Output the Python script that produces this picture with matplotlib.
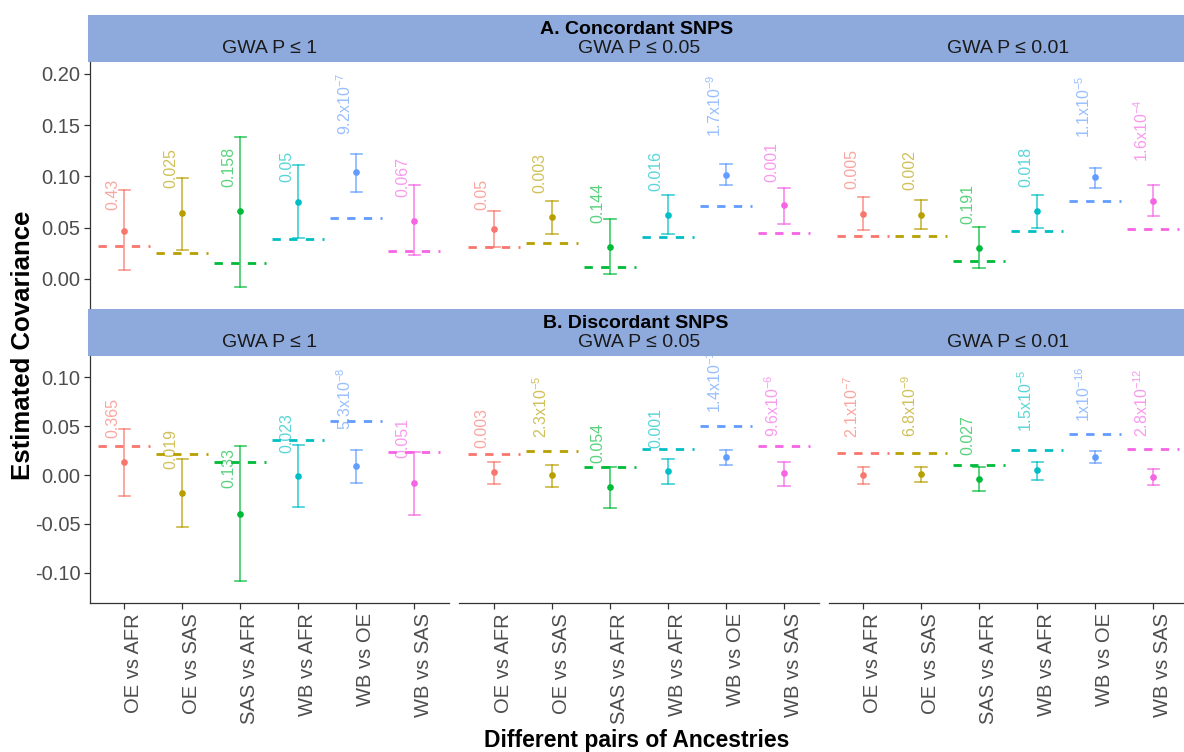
import matplotlib
matplotlib.use("Agg")
import matplotlib.pyplot as plt
from matplotlib.patches import Rectangle

plt.rcParams['font.family'] = ['Liberation Sans', 'DejaVu Sans']
plt.rcParams['mathtext.fontset'] = 'custom'
plt.rcParams['mathtext.rm'] = 'Liberation Sans'
plt.rcParams['mathtext.it'] = 'Liberation Sans:italic'
plt.rcParams['mathtext.bf'] = 'Liberation Sans:bold'

# ---------------- data ----------------
pairs = ["OE vs AFR", "OE vs SAS", "SAS vs AFR", "WB vs AFR", "WB vs OE", "WB vs SAS"]
thresholds = ["GWA P \u2264 1", "GWA P \u2264 0.05", "GWA P \u2264 0.01"]
section_titles = ["A. Concordant SNPS", "B. Discordant SNPS"]
colors = ["#F8766D", "#B79F00", "#00BA38", "#00BFC4", "#619CFF", "#F564E3"]

# Concordant SNPs (one list per GWA threshold)
conc_est = [[0.047, 0.064, 0.066, 0.075, 0.104, 0.057],
            [0.0485, 0.0605, 0.0315, 0.0624, 0.1015, 0.0719],
            [0.0634, 0.0624, 0.0306, 0.0667, 0.0992, 0.0761]]
conc_lo = [[0.0085, 0.028, -0.0075, 0.040, 0.085, 0.023],
           [0.031, 0.0436, 0.0046, 0.0436, 0.0917, 0.054],
           [0.0478, 0.0485, 0.0107, 0.050, 0.0891, 0.0615]]
conc_hi = [[0.0865, 0.099, 0.139, 0.1115, 0.122, 0.0915],
           [0.0667, 0.0761, 0.0588, 0.082, 0.1119, 0.0888],
           [0.0797, 0.0771, 0.0504, 0.0823, 0.1086, 0.0917]]
conc_null = [[0.0325, 0.025, 0.0156, 0.0393, 0.0598, 0.027],
             [0.031, 0.0354, 0.012, 0.041, 0.0715, 0.0446],
             [0.0423, 0.0423, 0.0176, 0.0468, 0.0764, 0.0491]]
conc_label_y = [[0.067, 0.0885, 0.090, 0.095, 0.1405, 0.080],
                [0.0673, 0.0836, 0.0543, 0.0862, 0.1388, 0.0949],
                [0.0875, 0.0868, 0.0537, 0.0901, 0.1372, 0.1145]]
conc_pval = [["0.43", "0.025", "0.158", "0.05", "9.2x10^-7", "0.067"],
             ["0.05", "0.003", "0.144", "0.016", "1.7x10^-9", "0.001"],
             ["0.005", "0.002", "0.191", "0.018", "1.1x10^-5", "1.6x10^-4"]]

# Discordant SNPs
disc_est = [[0.0133, -0.0187, -0.0399, -0.001, 0.0089, -0.0079],
            [0.0031, -0.0003, -0.0126, 0.0041, 0.0184, 0.0017],
            [-0.0003, 0.0007, -0.0038, 0.0051, 0.0187, -0.0017]]
disc_lo = [[-0.0218, -0.0528, -0.108, -0.033, -0.0079, -0.0406],
           [-0.0095, -0.0126, -0.0337, -0.0095, 0.0106, -0.0112],
           [-0.0095, -0.0072, -0.016, -0.0051, 0.0126, -0.0102]]
disc_hi = [[0.047, 0.016, 0.0293, 0.0307, 0.0256, 0.0238],
           [0.0136, 0.0106, 0.0079, 0.0164, 0.0252, 0.0136],
           [0.0085, 0.0085, 0.0085, 0.0136, 0.0242, 0.0064]]
disc_null = [[0.0293, 0.0215, 0.013, 0.0361, 0.0552, 0.0238],
             [0.0211, 0.0249, 0.0082, 0.0269, 0.0498, 0.030],
             [0.0222, 0.0222, 0.0099, 0.0259, 0.0419, 0.0266]]
disc_label_y = [[0.0375, 0.0058, -0.0136, 0.0222, 0.046, 0.017],
                [0.0273, 0.0375, 0.0126, 0.0273, 0.063, 0.0392],
                [0.0375, 0.0385, 0.0204, 0.0443, 0.0545, 0.0392]]
disc_pval = [["0.365", "0.019", "0.133", "0.023", "5.3x10^-8", "0.051"],
             ["0.003", "2.3x10^-5", "0.054", "0.001", "1.4x10^-11", "9.6x10^-6"],
             ["2.1x10^-7", "6.8x10^-9", "0.027", "1.5x10^-5", "1x10^-16", "2.8x10^-12"]]

top_ticks = [0.00, 0.05, 0.10, 0.15, 0.20]
top_ticklabels = ["0.00", "0.05", "0.10", "0.15", "0.20"]
bot_ticks = [-0.10, -0.05, 0.00, 0.05, 0.10]
bot_ticklabels = ["-0.10", "-0.05", "0.00", "0.05", "0.10"]

# ---------------- layout ----------------
W, H = 1184, 752
fig = plt.figure(figsize=(W / 100, H / 100), dpi=100)


def rect(x0, y0, w, h):
    return [x0 / W, 1 - (y0 + h) / H, w / W, h / H]


panel_left = [89.5, 459.0, 828.5]
panel_w = 359.6
rows = [dict(y0=62.0, h=246.0, ylim=(-0.0283, 0.2117), ticks=top_ticks, tl=top_ticklabels,
             est=conc_est, lo=conc_lo, hi=conc_hi, null=conc_null, ly=conc_label_y, pv=conc_pval,
             strip=(15.0, 62.0)),
        dict(y0=355.7, h=247.6, ylim=(-0.1312, 0.122), ticks=bot_ticks, tl=bot_ticklabels,
             est=disc_est, lo=disc_lo, hi=disc_hi, null=disc_null, ly=disc_label_y, pv=disc_pval,
             strip=(309.0, 355.7))]

strip_color = "#8EA9DB"
axis_col = "#333333"
tick_col = "#4D4D4D"


def fmt_p(s):
    if "^" in s:
        base, exp = s.split("^")
        return base + r"$^{\mathregular{" + exp + "}}$"
    return s


for r, row in enumerate(rows):
    # strip band
    s0, s1 = row["strip"]
    fig.add_artist(Rectangle((88.3 / W, 1 - s1 / H), (W - 88.3) / W, (s1 - s0) / H,
                             transform=fig.transFigure, facecolor=strip_color,
                             edgecolor="none", zorder=0))
    fig.text((88.3 + W) / 2 / W, 1 - (s0 + 14) / H, section_titles[r], ha="center", va="center",
             fontsize=14, fontweight="bold", color="black")
    for c in range(3):
        ax = fig.add_axes(rect(panel_left[c], row["y0"], panel_w, row["h"]))
        ax.set_xlim(0.4, 6.6)
        ax.set_ylim(*row["ylim"])
        ax.patch.set_alpha(0)
        for sp in ["top", "right"]:
            ax.spines[sp].set_visible(False)
        ax.spines["left"].set_visible(c == 0)
        ax.spines["bottom"].set_visible(r == 1)
        for sp in ["left", "bottom"]:
            ax.spines[sp].set_color(axis_col)
            ax.spines[sp].set_linewidth(0.9)

        xs = list(range(1, len(pairs) + 1))
        for i, x in enumerate(xs):
            col = colors[i]
            est = row["est"][c][i]
            lo = row["lo"][c][i]
            hi = row["hi"][c][i]
            nl = row["null"][c][i]
            # null expectation (dashed)
            ax.plot([x - 0.45, x + 0.45], [nl, nl], color=col, lw=2.0,
                    linestyle=(0, (3.0, 3.0)), dash_capstyle="butt", zorder=2)
            # error bars
            ax.plot([x, x], [lo, hi], color=col, lw=1.2, alpha=0.75, zorder=3)
            ax.plot([x - 0.1, x + 0.1], [lo, lo], color=col, lw=1.2, alpha=0.75, zorder=3)
            ax.plot([x - 0.1, x + 0.1], [hi, hi], color=col, lw=1.2, alpha=0.75, zorder=3)
            ax.plot([x], [est], marker="o", ms=4.8, color=col, mec="none", zorder=4)
            # p-value label
            ax.text(x - 0.2, row["ly"][c][i], fmt_p(row["pv"][c][i]), rotation=90,
                    ha="center", va="bottom", fontsize=11.5, color=col, alpha=0.65,
                    clip_on=True, zorder=5)

        if c == 0:
            ax.set_yticks(row["ticks"])
            ax.set_yticklabels(row["tl"])
            ax.tick_params(axis="y", length=4, width=0.9, color=axis_col, pad=2.5,
                           labelsize=14.5, labelcolor=tick_col)
        else:
            ax.set_yticks([])
        if r == 1:
            ax.set_xticks(xs)
            ax.set_xticklabels(pairs, rotation=90, ha="left")
            ax.tick_params(axis="x", length=4, width=0.9, color=axis_col, pad=3,
                           labelsize=14.5, labelcolor=tick_col)
        else:
            ax.set_xticks([])

        # facet sub-strip label
        fig.text((panel_left[c] + panel_w / 2) / W, 1 - (s1 - 13.5) / H, thresholds[c],
                 ha="center", va="center", fontsize=14, color="#1A1A1A")

fig.text(23 / W, 1 - 345 / H, "Estimated Covariance", rotation=90, ha="center", va="center",
         fontsize=18.5, fontweight="bold", color="black")
fig.text(637 / W, 1 - 740 / H, "Different pairs of Ancestries", ha="center", va="center",
         fontsize=16.5, fontweight="bold", color="black")

fig.savefig("out.png", dpi=100)
